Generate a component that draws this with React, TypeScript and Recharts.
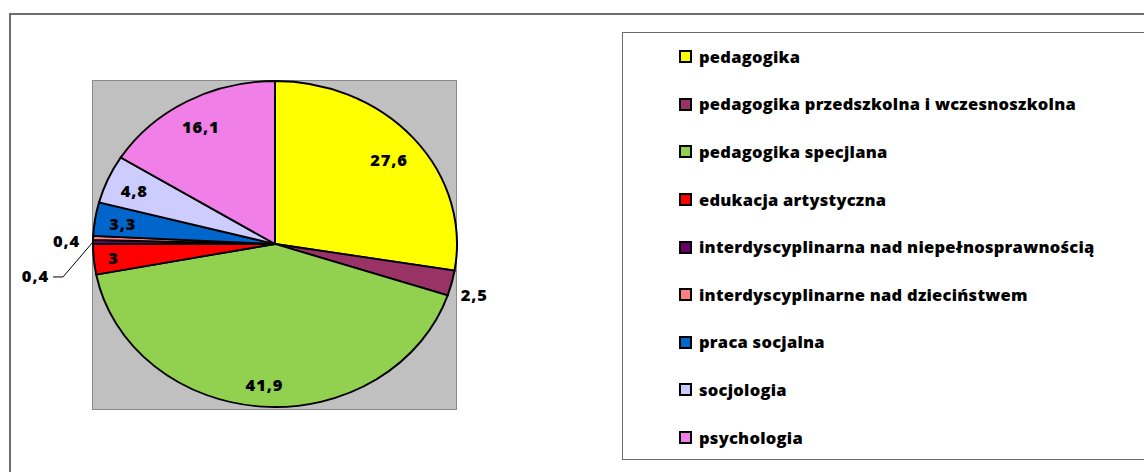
import React from "react";
import { PieChart, Pie, Cell, Legend } from "recharts";

const categories = [
  "pedagogika",
  "pedagogika przedszkolna i wczesnoszkolna",
  "pedagogika specjlana",
  "edukacja artystyczna",
  "interdyscyplinarna nad niepełnosprawnością",
  "interdyscyplinarne nad dzieciństwem",
  "praca socjalna",
  "socjologia",
  "psychologia",
];
const values = [27.6, 2.5, 41.9, 3, 0.4, 0.4, 3.3, 4.8, 16.1];
const colors = [
  "#FFFF00",
  "#993366",
  "#92D050",
  "#FF0000",
  "#660066",
  "#FF8080",
  "#0066CC",
  "#CCCCFF",
  "#F07FE8",
];

const data = categories.map((name, i) => ({ name, value: values[i] }));
const total = values.reduce((a, b) => a + b, 0);

const CX = 275;
const CY = 244;
const R = 182;
const SQUASH = 163 / 182;
const FONT = "'Open Sans', sans-serif";
const RAD = Math.PI / 180;

const fmt = (v: number) => String(v).replace(".", ",");
const estWidth = (s: string) =>
  s.split("").reduce((w, c) => w + (c === "," ? 5.5 : 10.3), 0);

const isOutside = (i: number) => values[i] / total < 0.028;

const renderLabel = (props: any) => {
  const { cx, cy, midAngle, outerRadius, index, value } = props;
  const cos = Math.cos(midAngle * RAD);
  const sin = Math.sin(midAngle * RAD);
  const rx = outerRadius;
  const ry = outerRadius * SQUASH;
  const text = fmt(value);
  const common = {
    fontFamily: FONT,
    fontWeight: 800,
    fontSize: 16.5,
    letterSpacing: 0.9,
    fill: "#000",
    dominantBaseline: "central" as const,
  };
  if (!isOutside(index)) {
    const halfW = estWidth(text) / 2;
    const d = 14 + halfW * Math.abs(cos) + 7 * Math.abs(sin);
    const x = cx + (rx - d) * cos;
    const y = cy - (ry - d) * sin;
    return (
      <text key={`l${index}`} x={x} y={y} textAnchor="middle" {...common}>
        {text}
      </text>
    );
  }
  const ex = cx + rx * cos;
  const ey = cy - ry * sin;
  const sy = -sin;
  const nextCollides =
    index + 1 < values.length &&
    isOutside(index + 1) &&
    Math.abs((values[index] + values[index + 1]) / 2 / total) * 360 < 5;
  if (nextCollides) {
    const ax = ex - 30;
    const ay = ey + 35;
    const bx = ex - 40;
    return (
      <g key={`l${index}`}>
        <polyline
          points={`${ex},${ey} ${ax},${ay} ${bx},${ay}`}
          fill="none"
          stroke="#000"
          strokeWidth={1}
        />
        <text x={bx - 4} y={ay - 1} textAnchor="end" {...common}>
          {text}
        </text>
      </g>
    );
  }
  const right = cos > 0;
  return (
    <text
      key={`l${index}`}
      x={ex + (right ? 9 : -13)}
      y={ey + 4 + 30 * sy}
      textAnchor={right ? "start" : "end"}
      {...common}
    >
      {text}
    </text>
  );
};

const LegendContent = (props: any) => {
  const payload = [...(props.payload || [])].sort(
    (a: any, b: any) => categories.indexOf(a.value) - categories.indexOf(b.value)
  );
  return (
    <div
      style={{
        width: 530,
        height: 428,
        boxSizing: "border-box",
        border: "1.5px solid #6b6b6b",
        background: "#fff",
        fontFamily: FONT,
        fontWeight: 800,
        fontSize: 16.5,
        letterSpacing: 0.25,
        color: "#000",
      }}
    >
      {payload.map((entry: any, i: number) => (
        <div
          key={i}
          style={{
            height: 47.6,
            display: "flex",
            alignItems: "center",
            paddingLeft: 56,
            whiteSpace: "nowrap",
          }}
        >
          <span
            style={{
              display: "inline-block",
              width: 9,
              height: 9,
              border: "2px solid #000",
              background: entry.color,
              marginRight: 7,
              flex: "none",
            }}
          />
          <span style={{ lineHeight: "20px" }}>{entry.value}</span>
        </div>
      ))}
    </div>
  );
};

export default function App() {
  return (
    <div
      style={{
        position: "absolute",
        left: 0,
        top: 0,
        width: 1144,
        height: 472,
        overflow: "hidden",
        background: "#fff",
      }}
    >
      <style>{`
        .squash .recharts-pie-sector {
          transform-origin: ${CX}px ${CY}px;
          transform: scaleY(${SQUASH});
        }
      `}</style>
      <div
        style={{
          position: "absolute",
          left: 9,
          top: 13,
          width: 1160,
          height: 480,
          border: "2px solid #6e6e6e",
          boxSizing: "border-box",
        }}
      />
      <div
        style={{
          position: "absolute",
          left: 92,
          top: 80,
          width: 365,
          height: 330,
          background: "#C0C0C0",
          border: "1.5px solid #8a8a8a",
          boxSizing: "border-box",
        }}
      />
      <div className="squash" style={{ position: "absolute", left: 0, top: 0 }}>
        <PieChart
          width={1144}
          height={472}
          margin={{ top: 0, right: 0, bottom: 0, left: 0 }}
        >
          <Pie
            data={data}
            dataKey="value"
            nameKey="name"
            cx={CX}
            cy={CY}
            outerRadius={R}
            startAngle={90}
            endAngle={-270}
            stroke="#000"
            strokeWidth={2}
            label={renderLabel}
            labelLine={false}
            isAnimationActive={false}
          >
            {data.map((d, i) => (
              <Cell key={d.name} fill={colors[i]} />
            ))}
          </Pie>
          <Legend
            layout="vertical"
            align="right"
            verticalAlign="top"
            content={<LegendContent />}
            wrapperStyle={{ left: 622, top: 32, width: 530, height: 428 }}
          />
        </PieChart>
      </div>
    </div>
  );
}
